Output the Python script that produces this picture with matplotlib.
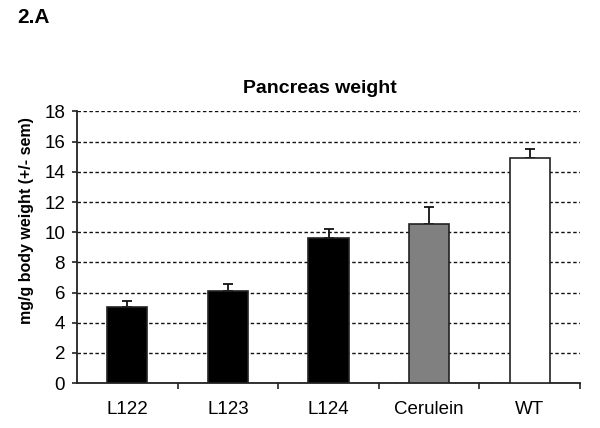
import matplotlib
matplotlib.use("Agg")
import matplotlib.pyplot as plt
import numpy as np

plt.rcParams['font.family'] = ['Liberation Sans', 'DejaVu Sans']

# data
groups = ['L122', 'L123', 'L124', 'Cerulein', 'WT']
weight = [5.07, 6.07, 9.64, 10.57, 14.9]
sem = [0.35, 0.5, 0.55, 1.1, 0.6]
fills = ['black', 'black', 'black', '#808080', 'white']
yticks = [0, 2, 4, 6, 8, 10, 12, 14, 16, 18]

fig = plt.figure(figsize=(6, 4.28), dpi=100)
ax = fig.add_axes([0.1283, 0.105, 0.8384, 0.6345])

x = np.arange(len(groups))
ax.bar(x, weight, width=0.4, color=fills, edgecolor='#222222', linewidth=1.2, zorder=3)
ax.errorbar(x, weight, yerr=[np.zeros(len(sem)), sem], fmt='none', ecolor='#111111',
            elinewidth=1.3, capsize=3.6, capthick=1.3, zorder=2)

ax.set_xlim(-0.5, len(groups) - 0.5)
ax.set_ylim(0, 18)
ax.set_yticks(yticks)
ax.set_xticks(x)
ax.set_xticklabels(groups)
ax.set_xticks(np.arange(len(groups)) + 0.5, minor=True)
ax.tick_params(axis='x', which='major', length=0, pad=13, labelsize=13.5)
ax.tick_params(axis='x', which='minor', length=4, width=1.2, direction='out', color='#222222')
ax.tick_params(axis='y', length=3.6, width=1.2, pad=5, labelsize=13.5, direction='out', color='#222222')

ax.yaxis.grid(True, linestyle=(0, (2.5, 1.8)), color='#111111', linewidth=1.0, zorder=0)
ax.set_axisbelow(True)
for s in ['top', 'right']:
    ax.spines[s].set_visible(False)
for s in ['left', 'bottom']:
    ax.spines[s].set_linewidth(1.3)
    ax.spines[s].set_color('#222222')

fig.text(0.045, 0.484, 'mg/g body weight (+/- sem)', rotation=90, ha='center', va='center',
         fontsize=11.5, fontweight='bold')
fig.text(0.533, 0.794, 'Pancreas weight', ha='center', va='center', fontsize=14, fontweight='bold')
fig.text(0.028, 0.958, '2.A', ha='left', va='center', fontsize=15, fontweight='bold')

fig.savefig('out.png', dpi=100)
